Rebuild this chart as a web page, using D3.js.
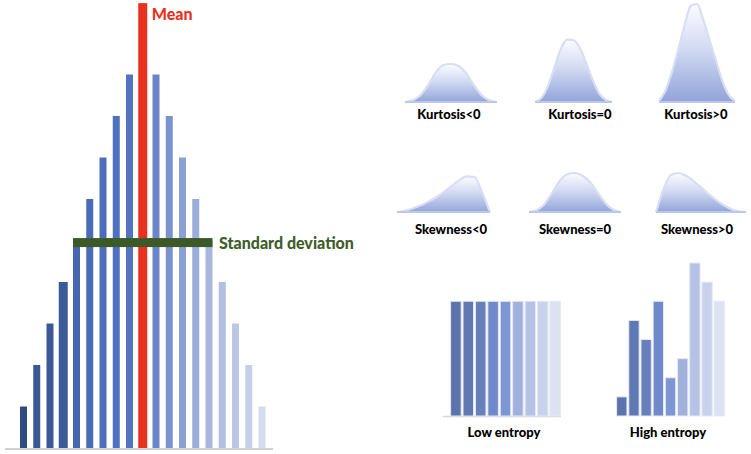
<!DOCTYPE html>
<html>
<head>
<meta charset="utf-8">
<script src="https://cdn.jsdelivr.net/npm/d3@7"></script>
<style>
  body { margin: 0; background: #fff; }
  svg { display: block; }
  .lbl { font-family: Lato, "Open Sans", sans-serif; font-weight: 900; }
</style>
</head>
<body>
<script>
// ---- data ----
// left histogram: 19 bins, bin 10 is the mean
var histBins = d3.range(1, 20);
var histCounts = [1, 2, 3, 4, 5, 6, 7, 8, 9, 10.72, 9, 8, 7, 6, 5, 4, 3, 2, 1];
var meanBin = 10;
var stdFrom = 5, stdTo = 15, stdLevel = 4.95;
var histColors = ["#2f4b80", "#3a5895", "#3b5997", "#3c5a98", "#4666ae", "#4a6bb6", "#4c6dba", "#4f70be", "#5273c2",
                  "#e8321f", "#6a86c8", "#7a92cd", "#8ba1d3", "#9aaed9", "#a7b7dd", "#b2bfe1", "#bcc7e5", "#c6cfea", "#d3dbef"];

// kurtosis / skewness curves: heights sampled left to right (0..1 of each shape's own height)
var kurtLabels = ["Kurtosis<0", "Kurtosis=0", "Kurtosis>0"];
var kurtCurves = [
  [0.02, 0.07, 0.2, 0.45, 0.78, 0.97, 1, 0.95, 0.76, 0.45, 0.2, 0.07, 0.02],
  [0.02, 0.08, 0.26, 0.55, 0.84, 0.99, 0.98, 0.86, 0.62, 0.36, 0.15, 0.05, 0.02],
  [0.02, 0.12, 0.3, 0.52, 0.76, 0.96, 0.98, 0.82, 0.62, 0.42, 0.22, 0.08, 0.02]
];
var kurtHeights = [39, 64, 101];
var skewLabels = ["Skewness<0", "Skewness=0", "Skewness>0"];
var skewCurves = [
  [0.02, 0.06, 0.12, 0.2, 0.3, 0.42, 0.56, 0.72, 0.88, 0.99, 0.97, 0.55, 0.02],
  [0.02, 0.07, 0.22, 0.5, 0.8, 0.97, 1, 0.93, 0.76, 0.5, 0.24, 0.08, 0.02],
  [0.02, 0.6, 0.95, 1, 0.93, 0.8, 0.64, 0.48, 0.33, 0.2, 0.1, 0.04, 0.02]
];
var skewHeights = [37, 40, 40];

// entropy bars
var entropyBins = d3.range(9);
var lowEntropy = [6, 6, 6, 6, 6, 6, 6, 6, 6];
var highEntropy = [1, 5, 4, 6, 2, 3, 8, 7, 6];
var entropyLabels = ["Low entropy", "High entropy"];
var entropyColors = ["#5c74ab", "#6179b3", "#6780bb", "#7089ca", "#7d96d4", "#a2b1dc", "#b6c2e5", "#c9d2ec", "#dce2f2"];

var width = 751, height = 454;

var svg = d3.select("body").append("svg")
    .attr("width", width)
    .attr("height", height);

var defs = svg.append("defs");
var grad = defs.append("linearGradient")
    .attr("id", "bellFill")
    .attr("x1", 0).attr("y1", 0).attr("x2", 0).attr("y2", 1);
grad.append("stop").attr("offset", "0%").attr("stop-color", "#fdfdff");
grad.append("stop").attr("offset", "45%").attr("stop-color", "#d2daf2");
grad.append("stop").attr("offset", "100%").attr("stop-color", "#90a3d9");

// ---- left histogram ----
var hx = d3.scalePoint().domain(histBins).range([23.5, 262]);
var hy = d3.scaleLinear().domain([0, 9]).range([448, 74.5]);

var hist = svg.append("g");

hist.append("line")
    .attr("x1", 5).attr("x2", 273)
    .attr("y1", hy(0) + 1).attr("y2", hy(0) + 1)
    .attr("stroke", "#d0d0d0")
    .attr("stroke-width", 2);

hist.selectAll(".bar")
    .data(histBins)
    .enter().append("rect")
    .attr("class", "bar")
    .attr("x", function (d) { return hx(d) - (d == meanBin || d == 4 ? 4.5 : 3.5); })
    .attr("width", function (d) { return d == meanBin || d == 4 ? 9 : 7; })
    .attr("y", function (d, i) { return hy(histCounts[i]); })
    .attr("height", function (d, i) { return hy(0) - hy(histCounts[i]); })
    .attr("fill", function (d, i) { return histColors[i]; });

// standard deviation bar
var stdY = hy(stdLevel);
hist.append("rect")
    .attr("x", hx(stdFrom) - 3.5)
    .attr("width", hx(stdTo) + 3.5 - (hx(stdFrom) - 3.5))
    .attr("y", stdY - 4.5)
    .attr("height", 9)
    .attr("fill", "#3c5a27");

hist.append("text")
    .attr("class", "lbl")
    .attr("x", hx(meanBin) + 9)
    .attr("y", 20)
    .attr("font-size", 16)
    .attr("fill", "#e8321f")
    .text("Mean");

hist.append("text")
    .attr("class", "lbl")
    .attr("x", hx(stdTo) + 10)
    .attr("y", stdY + 6)
    .attr("font-size", 16)
    .attr("fill", "#3f5c2b")
    .text("Standard deviation");

// ---- bell shapes ----
function drawShape(g, profile, x0, x1, base, h) {
    var sx = d3.scaleLinear().domain([0, profile.length - 1]).range([x0, x1]);
    var sy = d3.scaleLinear().domain([0, 1]).range([base, base - h]);
    var area = d3.area()
        .x(function (d, i) { return sx(i); })
        .y0(base)
        .y1(function (d) { return sy(d); })
        .curve(d3.curveMonotoneX);
    var line = d3.line()
        .x(function (d, i) { return sx(i); })
        .y(function (d) { return sy(d); })
        .curve(d3.curveMonotoneX);
    g.append("path")
        .datum(profile)
        .attr("d", area)
        .attr("fill", "url(#bellFill)");
    g.append("path")
        .datum(profile)
        .attr("d", line)
        .attr("fill", "none")
        .attr("stroke", "#d8dff3")
        .attr("stroke-width", 2.2);
    g.append("line")
        .attr("x1", x0).attr("x2", x1)
        .attr("y1", base - 1).attr("y2", base - 1)
        .attr("stroke", "#bcc8ea")
        .attr("stroke-width", 2);
}

var kurtBoxes = [[405, 497], [535, 612], [659, 735]];
var kurtCenters = [449, 580, 696];
var shapes = svg.append("g");
kurtCurves.forEach(function (c, i) {
    drawShape(shapes, c, kurtBoxes[i][0], kurtBoxes[i][1], 103, kurtHeights[i]);
    shapes.append("text")
        .attr("class", "lbl")
        .attr("x", kurtCenters[i])
        .attr("y", 119)
        .attr("font-size", 13)
        .attr("text-anchor", "middle")
        .attr("fill", "#000")
        .text(kurtLabels[i]);
});

var skewBoxes = [[397, 490], [529, 621], [656, 746]];
var skewCenters = [451, 575, 697];
skewCurves.forEach(function (c, i) {
    drawShape(shapes, c, skewBoxes[i][0], skewBoxes[i][1], 213, skewHeights[i]);
    shapes.append("text")
        .attr("class", "lbl")
        .attr("x", skewCenters[i])
        .attr("y", 234)
        .attr("font-size", 13)
        .attr("text-anchor", "middle")
        .attr("fill", "#000")
        .text(skewLabels[i]);
});

// ---- entropy bars ----
var ey = d3.scaleLinear().domain([0, 8]).range([416, 263]);
var ent = svg.append("g");

ent.append("line")
    .attr("x1", 443).attr("x2", 561)
    .attr("y1", 416.5).attr("y2", 416.5)
    .attr("stroke", "#d6d6d6")
    .attr("stroke-width", 1.5);

function drawEntropy(values, x0, x1, labelX, label) {
    var ex = d3.scaleBand().domain(entropyBins).range([x0, x1]).paddingInner(0.15).paddingOuter(0.05);
    ent.selectAll(null)
        .data(values)
        .enter().append("rect")
        .attr("x", function (d, i) { return ex(i); })
        .attr("width", ex.bandwidth())
        .attr("y", function (d) { return ey(d); })
        .attr("height", function (d) { return ey(0) - ey(d); })
        .attr("fill", function (d, i) { return entropyColors[i]; })
        .attr("stroke", "#e4e9f5")
        .attr("stroke-width", 1);
    ent.append("text")
        .attr("class", "lbl")
        .attr("x", labelX)
        .attr("y", 437)
        .attr("font-size", 13)
        .attr("text-anchor", "middle")
        .attr("fill", "#000")
        .text(label);
}

drawEntropy(lowEntropy, 450, 561, 504, entropyLabels[0]);
drawEntropy(highEntropy, 616, 725, 668, entropyLabels[1]);
</script>
</body>
</html>
